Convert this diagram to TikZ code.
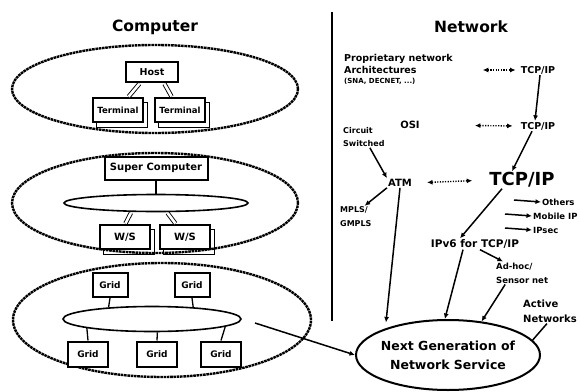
\documentclass[tikz,border=0pt]{standalone}
\usepackage{fontspec}
\setmainfont{DejaVu Sans}
\usetikzlibrary{arrows.meta, positioning, shapes.geometric, backgrounds}

\newcommand{\fsz}[2]{\fontsize{#1}{#2}\selectfont}

\begin{document}
\begin{tikzpicture}[
    x=1pt, y=-1pt,
    outer/.style={draw, ellipse, inner sep=0pt, line width=2.4pt,
                  dash pattern=on 2.6pt off 0.7pt},
    bus/.style={draw, ellipse, inner sep=0pt, line width=1.6pt},
    box/.style={draw, fill=white, line width=2pt, inner sep=1pt,
                font=\bfseries\fsz{9.5}{11}},
    shbox/.style={box, line width=1.3pt},
    lbl/.style={inner sep=1pt, align=left, font=\bfseries\fsz{9}{11}},
    link/.style={->, line width=1.5pt},
    dlink/.style={<->, line width=1.4pt, dash pattern=on 1.2pt off 1.4pt},
    pipe/.style={double, double distance=2.6pt, line width=0.9pt,
                 shorten <=1pt, shorten >=1pt},
    >={Latex[length=5.5pt, width=5pt]}
  ]
  \useasboundingbox (0,0) rectangle (581,391);

  % Headings
  \node[lbl, font=\bfseries\fsz{15.5}{18}] (comptitle) at (155,27) {Computer};
  \node[lbl, font=\bfseries\fsz{15.5}{18}] (nettitle) at (471,27) {Network};

  % Divider
  \coordinate (divtop) at (332,12);
  \coordinate (divbot) at (332,321);
  \draw[line width=2.4pt] (divtop) -- (divbot);

  % Host with its terminals
  \node[outer, minimum width=286pt, minimum height=88pt] (hostframe) at (155,89) {};
  \node[box, minimum width=52pt, minimum height=20pt] (host) at (152,72) {Host};
  \node[shbox, minimum width=50pt, minimum height=24pt, font=\bfseries\fsz{8.5}{10}]
    (term1) at (118,110) {Terminal};
  \node[shbox, minimum width=50pt, minimum height=24pt, font=\bfseries\fsz{8.5}{10}]
    (term2) at (180,110) {Terminal};
  \draw[pipe] ([xshift=-12pt]host.south) -- ([xshift=10pt]term1.north);
  \draw[pipe] ([xshift=12pt]host.south) -- ([xshift=-8pt]term2.north);

  % Super computer and workstations
  \node[outer, minimum width=286pt, minimum height=100pt] (scframe) at (155,203) {};
  \node[box, minimum width=103pt, minimum height=23pt, font=\bfseries\fsz{10}{11}]
    (sc) at (156,168) {Super Computer};
  \node[bus, minimum width=184pt, minimum height=17pt] (wsbus) at (156,203) {};
  \node[shbox, minimum width=50pt, minimum height=24pt, font=\bfseries\fsz{10}{11}]
    (ws1) at (125,237) {W/S};
  \node[shbox, minimum width=50pt, minimum height=24pt, font=\bfseries\fsz{10}{11}]
    (ws2) at (185,237) {W/S};
  \draw[line width=1.3pt] (sc.south) -- (wsbus.north);
  \draw[pipe] (wsbus.-160) -- (ws1.north);
  \draw[pipe] (wsbus.-40) -- ([xshift=-9pt]ws2.north);

  % stacked copies behind terminals and workstations
  \begin{scope}[on background layer]
    \foreach \n in {term1, term2, ws1, ws2}
      \draw[line width=1.3pt, fill=white]
        ([xshift=4pt, yshift=-5pt]\n.south west) rectangle ([xshift=4pt, yshift=-5pt]\n.north east);
  \end{scope}

  % Grid
  \node[outer, minimum width=298pt, minimum height=114pt] (gridframe) at (162,320) {};
  \node[bus, minimum width=178pt, minimum height=25pt] (gridbus) at (152,319) {};
  \node[box, minimum width=35pt, minimum height=24pt, font=\bfseries\fsz{9}{10}]
    (grid1) at (110,285) {Grid};
  \node[box, minimum width=35pt, minimum height=24pt, font=\bfseries\fsz{9}{10}]
    (grid2) at (192,285) {Grid};
  \node[box, minimum width=40pt, minimum height=25pt, font=\bfseries\fsz{9}{10}]
    (grid3) at (88,354) {Grid};
  \node[box, minimum width=40pt, minimum height=25pt, font=\bfseries\fsz{9}{10}]
    (grid4) at (157,354) {Grid};
  \node[box, minimum width=40pt, minimum height=25pt, font=\bfseries\fsz{9}{10}]
    (grid5) at (221,354) {Grid};
  \draw[line width=1.3pt] (grid1.south) -- (gridbus.165);
  \draw[line width=1.3pt] (grid2.south) -- (gridbus.16);
  \draw[line width=1.3pt] (grid3.north) -- (gridbus.188);
  \draw[line width=1.3pt] (grid4.north) -- (gridbus.-68);
  \draw[line width=1.3pt] (grid5.north) -- (gridbus.-6.5);

  % Network history
  \node[lbl, anchor=west, font=\bfseries\fsz{9.5}{11}] (prop) at (343,59) {Proprietary network};
  \node[lbl, anchor=west, font=\bfseries\fsz{9.5}{11}] (arch) at (343,70) {Architectures};
  \node[lbl, anchor=west, font=\bfseries\fsz{7}{8}] (sna) at (343,81) {(SNA, DECNET, ...)};
  \node[lbl, font=\bfseries\fsz{9.5}{11}] (tcp1) at (538,70) {TCP/IP};
  \node[lbl, font=\bfseries\fsz{10}{11}] (osi) at (410,125) {OSI};
  \node[lbl, font=\bfseries\fsz{9.5}{11}] (tcp2) at (538,126) {TCP/IP};
  \node[lbl, anchor=west, font=\bfseries\fsz{8}{13}] (circ) at (342,137) {Circuit\\Switched};
  \node[lbl, font=\bfseries\fsz{10}{11}] (atm) at (400,183) {ATM};
  \node[lbl, font=\bfseries\fsz{18}{20}] (tcp3) at (522,180) {TCP/IP};
  \node[lbl, anchor=west, font=\bfseries\fsz{8}{14}] (mpls) at (339,217) {MPLS/\\GMPLS};
  \node[lbl, anchor=west, font=\bfseries\fsz{8.5}{10}] (others) at (541,202) {Others};
  \node[lbl, anchor=west, font=\bfseries\fsz{8.5}{10}] (mobip) at (532,216) {Mobile IP};
  \node[lbl, anchor=west, font=\bfseries\fsz{8.5}{10}] (ipsec) at (532,230) {IPsec};
  \node[lbl, font=\bfseries\fsz{10.5}{12}] (ipv6) at (475,244) {IPv6 for TCP/IP};
  \node[lbl, anchor=west, font=\bfseries\fsz{8.5}{14}] (adhoc) at (495,273) {Ad-hoc/\\Sensor net};
  \node[lbl, anchor=west, font=\bfseries\fsz{10}{15}] (active) at (522,311) {Active\\Networks};

  % Next generation service
  \node[draw, ellipse, inner sep=0pt, line width=2pt, minimum width=184pt,
        minimum height=70pt] (ng) at (448,355) {};
  \node[lbl, align=center, font=\bfseries\fsz{12.5}{19}] (ngtext) at (ng.center)
    {Next Generation of\\Network Service};

  % Evolution links
  \draw[dlink, shorten <=65pt, shorten >=4pt] (arch.east) -- (tcp1.west);
  \draw[dlink, shorten <=54pt, shorten >=7pt] (osi.east) -- (tcp2.west);
  \draw[dlink, shorten <=14pt, shorten >=16pt] (atm.east) -- (tcp3.west);
  \draw[link] ([xshift=2pt]tcp1.south) -- ([xshift=-3pt]tcp2.north);
  \draw[link] ([xshift=-6pt]tcp2.south) -- ([xshift=-10pt]tcp3.north);
  \draw[link] ([xshift=6pt]circ.south) -- (atm.north west);
  \draw[link] (atm.south west) -- ([xshift=-8pt]mpls.north east);
  \draw[link] ([xshift=-20pt]tcp3.south) -- ([xshift=-15pt]ipv6.north);
  \draw[link] ([xshift=-27pt, yshift=2pt]others.west) -- (others.west);
  \draw[link] ([xshift=-27pt, yshift=2pt]mobip.west) -- (mobip.west);
  \draw[link] ([xshift=-27pt, yshift=2pt]ipsec.west) -- (ipsec.west);
  \draw[link] ([xshift=5pt]ipv6.south) -- ([xshift=8pt]adhoc.north west);

  % Into the next generation
  \coordinate (gridout) at (255,323);
  \draw[link] (gridout) -- (ng.west);
  \draw[link, shorten >=6pt] (atm.south) -- (ng.157);
  \draw[link] ([xshift=-12pt]ipv6.south) -- (ng.95);
  \draw[link] ([xshift=-17pt]adhoc.south) -- (ng.45);
  \draw[line width=1.5pt] ([xshift=-3pt]active.south) -- (ng.10);

\end{tikzpicture}
\end{document}
